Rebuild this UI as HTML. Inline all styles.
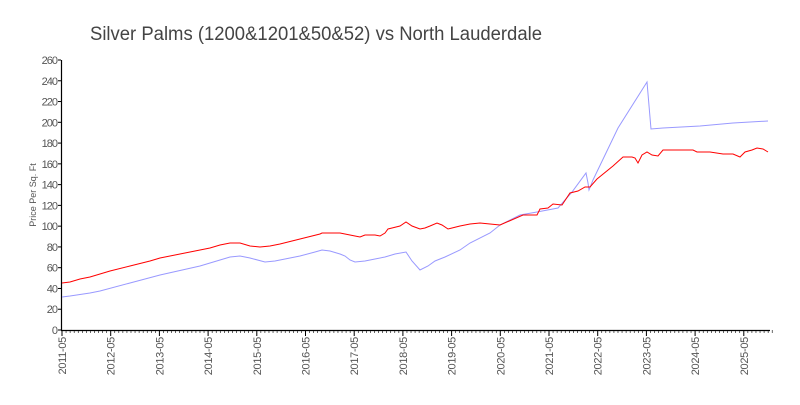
<!DOCTYPE html>
<html><head><style>
body{margin:0;background:#fff;}
svg text{font-family:"Liberation Sans",sans-serif;fill:#555;}
</style></head><body>
<svg width="800" height="400" viewBox="0 0 800 400" xmlns="http://www.w3.org/2000/svg">
<rect width="800" height="400" fill="#fff"/>
<text x="90" y="40" font-size="19" textLength="452" lengthAdjust="spacingAndGlyphs" style="fill:#444">Silver Palms (1200&amp;1201&amp;50&amp;52) vs North Lauderdale</text>
<text transform="translate(36,195) rotate(-90)" font-size="9" text-anchor="middle">Price Per Sq. Ft</text>
<g stroke="#000" stroke-width="1.2">
<line x1="61.5" y1="60" x2="61.5" y2="330"/>
<line x1="61" y1="330.5" x2="770" y2="330.5"/>
</g>
<g id="yt" font-size="11" text-anchor="end" letter-spacing="-1"></g>
<g id="xt" font-size="11" letter-spacing="-0.3"></g>
<g id="ticks" stroke="#000"></g>
<polyline fill="none" stroke="#9999ff" stroke-width="1" points="62,297 70,296 90,293 100,291 130,283 160,275 200,266 230,257 240,256 250,258 265,262 275,261 290,258 300,256 315,252 322,250 330,251 340,254 345,256 350,260 355,262 365,261 375,259 385,257 395,254 406,252 412,261 420,270 428,266 435,261 445,257 460,250 470,243 490,233 500,225 520,215 537,212 558,208 572,192 586,173 588,183 589,190 593,180 618,128 647,82 651,129 663,128 700,126 733,123 768,121"/>
<polyline fill="none" stroke="#ff0000" stroke-width="1" points="62,283 70,282 80,279 90,277 110,271 130,266 150,261 160,258 180,254 200,250 210,248 220,245 230,243 240,243 250,246 260,247 270,246 280,244 300,239 320,234 322,233 340,233 345,234 355,236 360,237 365,235 375,235 380,236 385,233 388,229 392,228 400,226 406,222 412,226 420,229 425,228 430,226 437,223 442,225 448,229 452,228 460,226 470,224 480,223 490,224 500,225 523,215 537,215 540,209 548,208 553,204 562,205 570,193 578,191 585,187 590,187 597,179 613,166 623,157 632,157 635,158 638,163 642,155 647,152 652,155 658,156 663,150 693,150 697,152 710,152 723,154 733,154 740,157 745,152 752,150 757,148 763,149 768,152"/>
<script>
var ns="http://www.w3.org/2000/svg";
var yt=document.getElementById('yt'),xt=document.getElementById('xt'),tk=document.getElementById('ticks');
function el(p,n,a,t){var e=document.createElementNS(ns,n);for(var k in a)e.setAttribute(k,a[k]);if(t)e.textContent=t;p.appendChild(e);}
for(var v=0;v<=260;v+=20){var y=330-v*270/260;el(yt,'text',{x:57,y:y+4},String(v));el(tk,'line',{x1:58,y1:y,x2:61,y2:y});}
for(var m=0;m<=175;m++){var x=62+m*48.7/12;if(m%12==0){el(tk,'line',{x1:x,y1:330,x2:x,y2:336});var yr=2011+m/12;el(xt,'text',{transform:'translate('+(x+4)+',337) rotate(-90)','text-anchor':'end'},yr+'-05');}else el(tk,'line',{x1:x,y1:330,x2:x,y2:333,'stroke-width':0.6});}
</script>
</svg>
</body></html>
